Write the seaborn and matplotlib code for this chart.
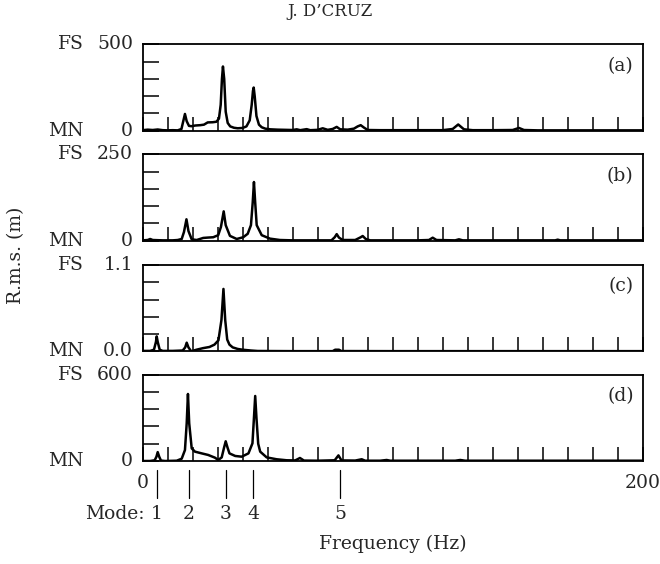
"""
Rms response spectra, four panels (a)-(d), with mode markers below.
"""

import numpy as np
import pandas as pd
import matplotlib
matplotlib.use("Agg")
import matplotlib.pyplot as plt
import matplotlib.transforms as mtransforms
import seaborn as sns

# --- data (frequency in Hz, r.m.s. value) ---
freq_a = [0, 2, 4, 6, 8, 10, 12, 14, 15.5, 16.3, 16.9, 17.6, 18.5, 19.5, 21, 23,
          24.5, 26, 28, 29.5, 30.5, 31.2, 31.7, 32.1, 32.6, 33.2, 34, 35, 36.5,
          38, 40, 41.5, 42.8, 43.6, 44.1, 44.4, 44.8, 45.5, 46.5, 47.6, 49, 51,
          54, 57, 60, 61.6, 63, 65.6, 67, 70, 72, 74, 76, 77.6, 79, 82, 84.5, 86,
          87.2, 88.5, 90, 95, 100, 110, 120, 124, 126.2, 128.5, 132, 140, 148,
          150.5, 152.5, 158, 170, 185, 200]
rms_a = [3, 6, 4, 7, 3, 2, 3, 2, 10, 60, 97, 55, 28, 26, 30, 32,
         35, 48, 49, 52, 70, 150, 300, 372, 300, 110, 45, 25, 17,
         14, 16, 25, 60, 150, 230, 250, 200, 85, 35, 20, 12, 8,
         6, 5, 4, 8, 3, 9, 3, 5, 14, 5, 10, 22, 8, 6, 12, 25,
         32, 18, 4, 3, 3, 3, 3, 10, 36, 8, 3, 3, 4,
         16, 4, 2, 2, 2, 2]

freq_b = [0, 2, 3, 4, 8, 12, 14, 15.6, 16.5, 17.5, 18.3, 19.6, 21.6, 24.2, 26,
          28.2, 30.2, 31.3, 32.4, 33.2, 34.9, 37.6, 40.2, 42, 43.3, 44, 44.5, 45,
          45.6, 47.6, 50.9, 54.9, 60, 70, 75.5, 76.8, 77.6, 78.5, 80, 85, 87.2,
          88, 89.2, 91, 110, 114.5, 116, 117.5, 125, 126.5, 128, 150, 165, 166,
          167, 200]
rms_b = [1, 2, 5, 2, 1, 1, 2, 5, 25, 62, 28, 4, 2, 8, 9,
         10, 16, 40, 85, 45, 14, 5, 10, 20, 45, 110, 170, 110,
         45, 16, 6, 2, 1, 1, 1, 10, 19, 9, 2, 2, 10,
         13.6, 5, 1, 1, 2, 8.7, 2, 1, 4, 1, 1, 1, 3,
         1, 1]

freq_c = [0, 3, 4.5, 5.3, 5.6, 6.0, 6.8, 8, 12, 16, 17.0, 17.6, 18.3, 19.4,
          21.5, 24.1, 26.7, 28.7, 30.3, 31.5, 32.3, 33.0, 33.8, 34.7, 36, 38,
          40, 43.3, 46, 60, 76, 77, 78.5, 79.5, 100, 200]
rms_c = [0.005, 0.005, 0.02, 0.12, 0.19, 0.12, 0.02, 0.005, 0.005, 0.01, 0.05,
         0.11, 0.05, 0.0, 0.02, 0.04, 0.055, 0.085, 0.14, 0.4, 0.795, 0.4,
         0.15, 0.085, 0.05, 0.03, 0.02, 0.01, 0.004, 0.002, 0.002, 0.02, 0.02,
         0.003, 0.002, 0.002]

freq_d = [0, 3, 4.8, 5.5, 6.0, 6.6, 7.3, 9, 13.6, 15.6, 16.9, 17.6, 18.1, 18.6,
          19.6, 20.9, 23.6, 26.2, 28.9, 30.2, 31.6, 32.5, 33.2, 33.9, 34.7, 37,
          39.6, 42.3, 43.9, 44.5, 45.0, 45.5, 46.2, 47, 49.6, 53.6, 57.6, 61,
          62.9, 64.5, 70, 76.8, 78.3, 79.5, 85, 87.6, 89, 95, 97.6, 99, 125, 127,
          129, 200]
rms_d = [0, 0, 5, 30, 62, 30, 3, 0, 2, 16, 76, 262, 466, 262,
         88, 65, 53, 42, 23, 7, 25, 90, 137, 95, 53, 35,
         30, 53, 123, 300, 452, 300, 120, 65, 25, 12, 5, 4,
         21, 3, 2, 5, 39, 4, 3, 12, 2, 2, 7, 2, 2, 7,
         2, 2]

panel_names = ["(a)", "(b)", "(c)", "(d)"]
full_scale = [500, 250, 1.1, 600]
fs_labels = ["500", "250", "1.1", "600"]
mn_labels = ["0", "0", "0.0", "0"]

mode_freqs = [5.7, 18.5, 33.3, 44.1, 79.0]
mode_labels = ["1", "2", "3", "4", "5"]

# --- figure setup ---
sns.set_style("ticks")
plt.rcParams["font.family"] = ["DejaVu Serif"]
plt.rcParams["axes.edgecolor"] = "black"
plt.rcParams["axes.linewidth"] = 1.3

FS = 13.5
W, H = 660, 564
fig = plt.figure(figsize=(W / 100, H / 100), dpi=100)

left_px, width_px, height_px = 142.7, 500, 86.3
bottoms_px = [130.7, 240.7, 351.3, 461.0]

series = [(freq_a, rms_a), (freq_b, rms_b), (freq_c, rms_c), (freq_d, rms_d)]
axes = []
for i, (fx, fy) in enumerate(series):
    b = bottoms_px[i]
    ax = fig.add_axes([left_px / W, 1 - b / H, width_px / W, height_px / H])
    df = pd.DataFrame({"freq": fx, "rms": fy})
    sns.lineplot(data=df, x="freq", y="rms", ax=ax, color="black",
                 linewidth=1.8, sort=True, estimator=None)
    top = full_scale[i]
    ax.set_xlim(0, 200)
    ax.set_ylim(0, top)
    ax.set_xlabel("")
    ax.set_ylabel("")

    # inward ticks: 10 Hz along the bottom, 5 divisions up the left side
    ax.set_xticks(np.arange(0, 201, 10))
    ax.tick_params(axis="x", direction="in", length=10, width=1.1,
                   color="black", pad=9, labelsize=FS, top=False)
    ax.set_yticks(np.linspace(0, top, 6))
    ax.set_yticklabels([mn_labels[i], "", "", "", "", fs_labels[i]])
    ax.tick_params(axis="y", direction="in", length=11.5, width=1.1,
                   color="black", pad=7, labelsize=FS, right=False)
    for lab in ax.get_yticklabels():
        lab.set_verticalalignment("center")

    if i < 3:
        ax.set_xticklabels([])
    else:
        ax.set_xticklabels(["0" if t == 0 else "200" if t == 200 else ""
                            for t in np.arange(0, 201, 10)])

    ax.text(-0.118, 1.0, "FS", transform=ax.transAxes, ha="right",
            va="center", fontsize=FS)
    ax.text(-0.118, 0.0, "MN", transform=ax.transAxes, ha="right",
            va="center", fontsize=FS)
    ax.text(0.982, 0.75, panel_names[i], transform=ax.transAxes, ha="right",
            va="center", fontsize=FS)
    axes.append(ax)

# mode markers under the bottom panel
ax = axes[-1]
trans = mtransforms.blended_transform_factory(ax.transData, ax.transAxes)
for f, lab in zip(mode_freqs, mode_labels):
    ax.plot([f, f], [-0.10, -0.43], color="black", linewidth=0.9,
            transform=trans, clip_on=False)
    ax.text(f, -0.61, lab, transform=trans, ha="center", va="center",
            fontsize=FS)
ax.text(0.6, -0.61, "Mode:", transform=trans, ha="right", va="center",
        fontsize=FS)

fig.text(393 / W, 1 - 544 / H, "Frequency (Hz)", ha="center", va="center",
         fontsize=FS)
fig.text(16 / W, 1 - 255 / H, "R.m.s. (m)", ha="center", va="center",
         rotation=90, fontsize=FS)
fig.text(330 / W, 1 - 12 / H, "J. D\u2019CRUZ", ha="center", va="center",
         fontsize=12)

fig.savefig("out.png", dpi=100)
